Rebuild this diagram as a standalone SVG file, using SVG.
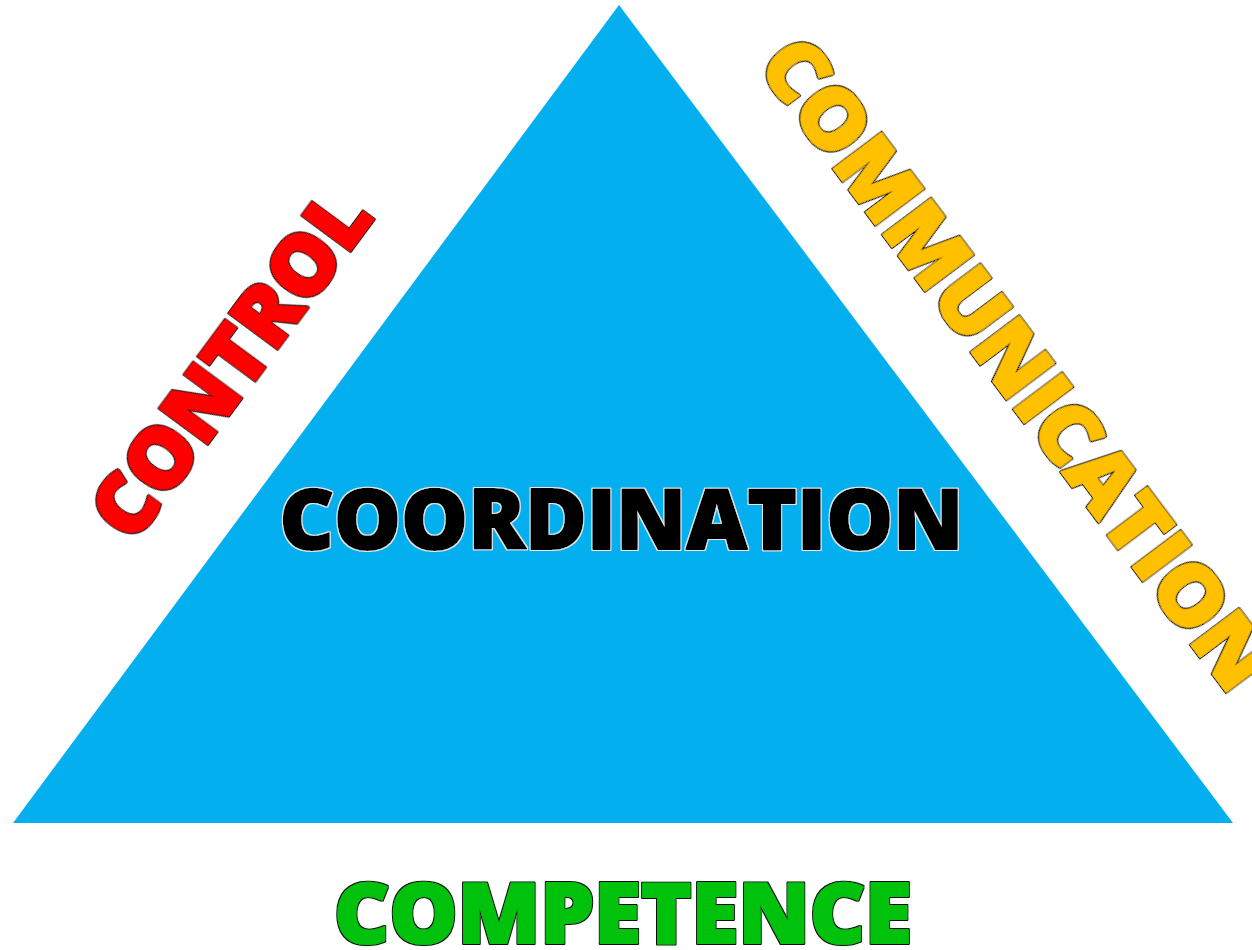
<svg xmlns="http://www.w3.org/2000/svg" width="1252" height="950" viewBox="0 0 1252 950">
<style>
.lbl{font-family:"Open Sans","Liberation Sans",sans-serif;font-weight:800;font-size:84px;text-anchor:middle;stroke-width:2px;stroke-linejoin:round}
</style>
<defs>
<filter id="outlineDark" x="-5%" y="-20%" width="110%" height="140%">
<feMorphology in="SourceAlpha" operator="dilate" radius="1.1" result="outer"/>
<feFlood flood-color="#111111"/>
<feComposite in2="outer" operator="in" result="outline"/>
<feMerge><feMergeNode in="outline"/><feMergeNode in="SourceGraphic"/></feMerge>
</filter>
<filter id="outlineLight" x="-5%" y="-20%" width="110%" height="140%">
<feMorphology in="SourceAlpha" operator="dilate" radius="1.1" result="outer"/>
<feFlood flood-color="#e8e8e8"/>
<feComposite in2="outer" operator="in" result="outline"/>
<feMerge><feMergeNode in="outline"/><feMergeNode in="SourceGraphic"/></feMerge>
</filter>
</defs>
<rect width="1252" height="950" fill="#ffffff"/>
<g id="triangle">
<polygon points="619,5 13,823 1233,823" fill="#03AFEF"/>
</g>
<g id="coordination">
<text class="lbl" x="621.5" y="549" textLength="684" lengthAdjust="spacingAndGlyphs" fill="#000000" stroke="#000000" filter="url(#outlineLight)">COORDINATION</text>
</g>
<g id="competence">
<text class="lbl" x="623" y="943" textLength="578" lengthAdjust="spacingAndGlyphs" fill="#00C20A" stroke="#00C20A" filter="url(#outlineDark)">COMPETENCE</text>
</g>
<g id="control">
<text class="lbl" transform="translate(254,381) rotate(-53.5)" x="0" y="0" textLength="408" lengthAdjust="spacingAndGlyphs" fill="#FF0000" stroke="#FF0000" filter="url(#outlineDark)">CONTROL</text>
</g>
<g id="communication">
<text class="lbl" transform="translate(993,381) rotate(53.1)" x="0" y="0" textLength="790" lengthAdjust="spacingAndGlyphs" fill="#FFC000" stroke="#FFC000" filter="url(#outlineDark)">COMMUNICATION</text>
</g>
<g id="connectors"></g>
</svg>
